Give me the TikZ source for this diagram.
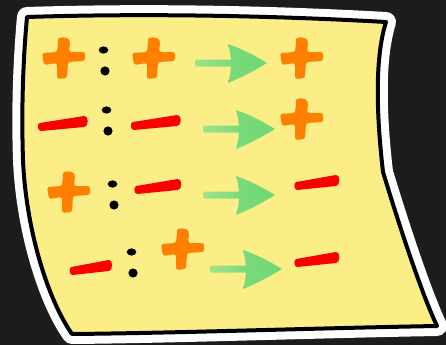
\documentclass[tikz,border=0pt]{standalone}
\definecolor{bgdark}{RGB}{28,28,28}
\definecolor{sheetyellow}{RGB}{251,238,134}
\definecolor{signorange}{RGB}{255,128,0}
\definecolor{signred}{RGB}{250,0,0}
\definecolor{arrowlight}{RGB}{160,226,140}
\definecolor{arrowdark}{RGB}{112,216,118}
\tikzset{
  plussign/.pic={
    \fill[signorange,rounded corners=2.5pt]
      (-21,-6) -- (-6,-7) -- (-5,-17) .. controls (-5,-23) and (6,-22) .. (7,-16)
      -- (6,-7) -- (22,-7) -- (22,2) -- (5,3) -- (4,19) -- (-6,20) -- (-6,4)
      -- (-19,6) -- cycle;
  },
  minussign/.pic={
    \fill[signred]
      (-23,-1) -- (21,-8) .. controls (26,-9) and (26,3) .. (21,3)
      -- (-22,7) .. controls (-26,7) and (-26,-1) .. cycle;
  },
  colonsign/.pic={
    \fill[black] (-0.5,-11) ellipse (4.8pt and 3.6pt);
    \fill[black] (1,10) circle (4.6pt);
  },
  greenarrow/.pic={
    \shade[left color=arrowlight,right color=arrowdark!80!arrowlight,rounded corners=1.5pt]
      (0,-3.5) rectangle (38,3.5);
    \shade[left color=arrowdark!80!arrowlight,right color=arrowdark]
      (33,-19) .. controls (50,-13) and (62,-6) .. (72,0)
      .. controls (62,6) and (50,13) .. (33,20)
      .. controls (37,7) and (37,-6) .. cycle;
  }
}
\begin{document}
\begin{tikzpicture}[x=1pt,y=-1pt]
\fill[bgdark] (0,0) rectangle (446,345);
\useasboundingbox (0,0) rectangle (446,345);
% sheet
\def\sheetpath{(27,17) .. controls (150,13) and (280,16) .. (386,22)
  .. controls (374,60) and (377,120) .. (383,172)
  .. controls (396,215) and (420,290) .. (437,326)
  .. controls (320,328) and (180,333) .. (72,334)
  .. controls (48,300) and (26,230) .. (23,160)
  .. controls (21,100) and (24,50) .. cycle}
\draw[white,line width=20pt,line join=round] \sheetpath;
\fill[sheetyellow] \sheetpath;
\draw[black,line width=4pt,line join=round] \sheetpath;
% row 1
\pic at (63,59) {plussign};
\pic at (104,61) {colonsign};
\pic at (153,59) {plussign};
\pic at (195,63) {greenarrow};
\pic at (301,59) {plussign};
% row 2
\pic at (63,124) {minussign};
\pic at (107,121) {colonsign};
\pic at (156,123) {minussign};
\pic at (203,129) {greenarrow};
\pic at (301,120) {plussign};
% row 3
\pic at (68,193) {plussign};
\pic at (113,195) {colonsign};
\pic[xscale=0.94] at (158,187) {minussign};
\pic at (203,195) {greenarrow};
\pic[xscale=0.9] at (317,183) {minussign};
% row 4
\pic[xscale=0.85] at (91,268) {minussign};
\pic at (132,263) {colonsign};
\pic at (182,250) {plussign};
\pic at (210,269) {greenarrow};
\pic[xscale=0.9] at (317,260) {minussign};
\end{tikzpicture}
\end{document}
